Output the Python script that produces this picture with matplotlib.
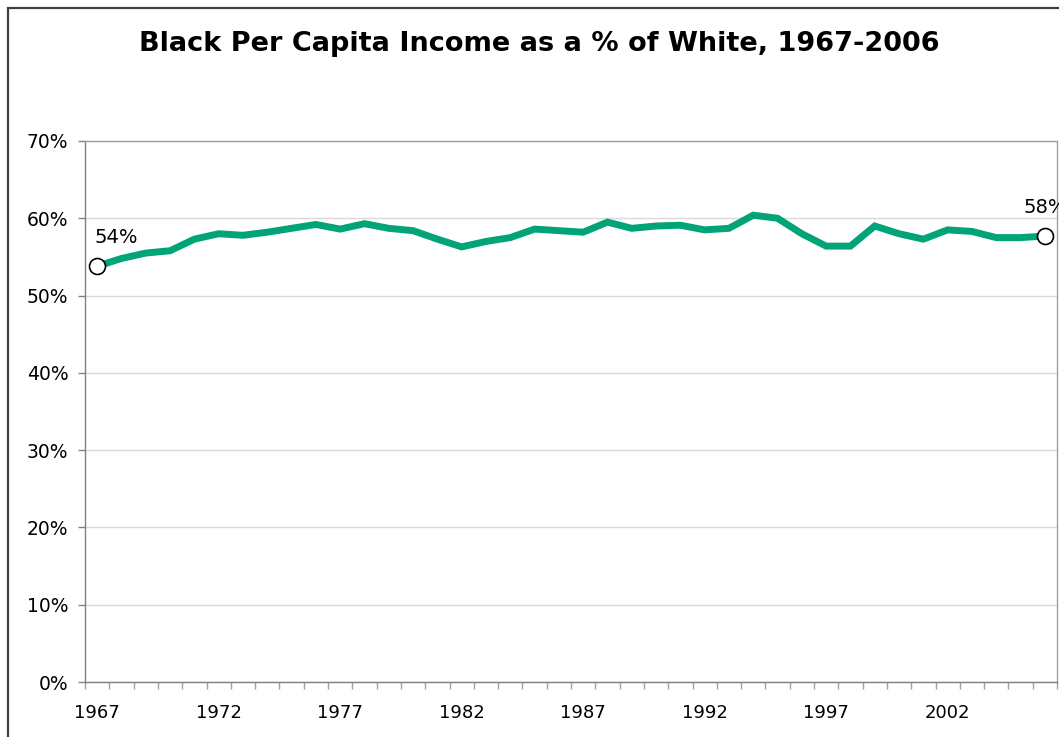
import matplotlib
matplotlib.use('Agg')
import matplotlib.pyplot as plt
from matplotlib.patches import Rectangle
from matplotlib.ticker import MultipleLocator, FixedLocator, PercentFormatter

# black per capita income as % of white
years = list(range(1967, 2007))
ratio = [53.8, 54.8, 55.5, 55.8, 57.3, 58.0, 57.8, 58.2, 58.7, 59.2,
         58.6, 59.3, 58.7, 58.4, 57.3, 56.3, 57.0, 57.5, 58.6, 58.4,
         58.2, 59.5, 58.7, 59.0, 59.1, 58.5, 58.7, 60.4, 60.0, 58.0,
         56.4, 56.4, 59.0, 58.0, 57.3, 58.5, 58.3, 57.5, 57.5, 57.7]
label_years = [1967, 1972, 1977, 1982, 1987, 1992, 1997, 2002]
title = 'Black Per Capita Income as a % of White, 1967-2006'

fig = plt.figure(figsize=(10.59, 7.37), dpi=100)

# outer chart frame (right and bottom run past the image edge)
fig.patches.append(Rectangle((8 / 1059, -0.1), 1.2, 1 - 8 / 737 + 0.1,
                             transform=fig.transFigure, fill=False,
                             edgecolor='#404040', linewidth=1.6))

ax = fig.add_axes([85 / 1059, 55 / 737, 972 / 1059, 541 / 737])

ax.plot(years, ratio, color='#00A478', linewidth=5, solid_joinstyle='miter', zorder=3)
ax.plot([years[0], years[-1]], [ratio[0], ratio[-1]], 'o', markersize=11.5,
        markerfacecolor='white', markeredgecolor='black', markeredgewidth=1.2, zorder=4)

ax.annotate('%d%%' % round(ratio[0]), (years[0], ratio[0]), xytext=(-2, 14),
            textcoords='offset points', ha='left', va='bottom', fontsize=14)
ax.annotate('%d%%' % round(ratio[-1]), (years[-1], ratio[-1]), xytext=(0, 14),
            textcoords='offset points', ha='center', va='bottom', fontsize=14)

ax.set_xlim(years[0] - 0.5, years[-1] + 0.5)
ax.set_ylim(0, 70)
ax.yaxis.set_major_locator(MultipleLocator(10))
ax.yaxis.set_major_formatter(PercentFormatter(decimals=0))
ax.xaxis.set_major_locator(FixedLocator(label_years))
ax.xaxis.set_minor_locator(FixedLocator([y - 0.5 for y in years] + [years[-1] + 0.5]))

ax.grid(axis='y', color='#d9d9d9', linewidth=1)
ax.set_axisbelow(True)
for s in ax.spines.values():
    s.set_color('#a0a0a0')
    s.set_linewidth(1)
ax.spines['left'].set_color('#808080')
ax.spines['bottom'].set_color('#808080')

ax.tick_params(axis='y', length=5, width=1, color='#808080', pad=7, labelsize=13.5)
ax.tick_params(axis='x', which='major', length=0, pad=16, labelsize=13)
ax.tick_params(axis='x', which='minor', length=5, width=1, color='#a0a0a0')

fig.text(539 / 1059, 1 - 44 / 737, title, ha='center', va='center',
         fontsize=19.5, fontweight='bold')

fig.savefig('out.png', dpi=100)
